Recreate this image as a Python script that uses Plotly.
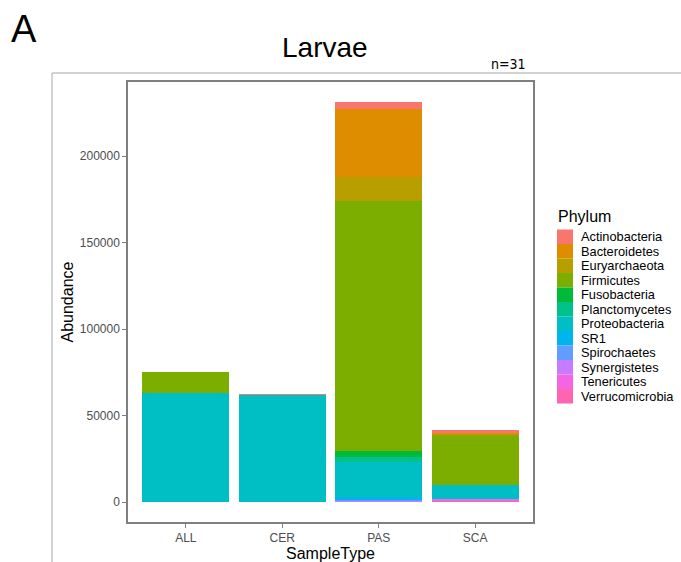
import plotly.graph_objects as go

# Sample types on the x axis
samples = ["ALL", "CER", "PAS", "SCA"]

# Phylum abundances per sample type (ALL, CER, PAS, SCA)
actinobacteria = [0, 500, 3800, 1300]
bacteroidetes = [0, 0, 39500, 1500]
euryarchaeota = [0, 0, 13800, 0]
firmicutes = [12000, 0, 145000, 29100]
fusobacteria = [0, 0, 3100, 0]
planctomycetes = [0, 0, 3200, 0]
proteobacteria = [63000, 61900, 20300, 8100]
sr1 = [0, 0, 1000, 0]
spirochaetes = [0, 0, 700, 0]
synergistetes = [0, 0, 800, 200]
tenericutes = [0, 0, 200, 400]
verrucomicrobia = [0, 0, 0, 900]

phyla = ["Actinobacteria", "Bacteroidetes", "Euryarchaeota", "Firmicutes",
         "Fusobacteria", "Planctomycetes", "Proteobacteria", "SR1",
         "Spirochaetes", "Synergistetes", "Tenericutes", "Verrucomicrobia"]
values = [actinobacteria, bacteroidetes, euryarchaeota, firmicutes,
          fusobacteria, planctomycetes, proteobacteria, sr1,
          spirochaetes, synergistetes, tenericutes, verrucomicrobia]
colors = ["#F8766D", "#DE8C00", "#B79F00", "#7CAE00", "#00BA38", "#00C08B",
          "#00BFC4", "#00B4F0", "#619CFF", "#C77CFF", "#F564E3", "#FF64B0"]

y_ticks = [0, 50000, 100000, 150000, 200000]

W, H = 681, 562
L, R, T, B = 128, 533, 82, 522  # plot panel in pixels


def px(x):
    return (x - L) / (R - L)


def py(y):
    return (B - y) / (B - T)


fig = go.Figure()
# first trace sits at the bottom of the stack, so go in reverse legend order
for name, vals, col in reversed(list(zip(phyla, values, colors))):
    fig.add_trace(go.Bar(
        x=samples, y=vals, name=name, width=0.9,
        marker=dict(color=col, line=dict(width=0)),
        showlegend=False,
    ))

totals = [sum(v[i] for v in values) for i in range(len(samples))]
ymax = max(totals)

font = "Liberation Sans, Arial, sans-serif"
shapes = []
annotations = []

# outer frame around the figure panel
shapes.append(dict(type="line", xref="paper", yref="paper",
                   x0=px(52), x1=px(W + 5), y0=py(73), y1=py(73),
                   line=dict(color="#c4c4c4", width=1.5)))
shapes.append(dict(type="line", xref="paper", yref="paper",
                   x0=px(52), x1=px(52), y0=py(73), y1=py(H + 5),
                   line=dict(color="#c4c4c4", width=1.5)))

# legend keys and labels
key_top, key_h = 229.5, 14.5
for i, (name, col) in enumerate(zip(phyla, colors)):
    y0 = key_top + i * key_h
    shapes.append(dict(type="rect", xref="paper", yref="paper",
                       x0=px(557), x1=px(573), y0=py(y0 + key_h), y1=py(y0),
                       fillcolor=col, line=dict(width=0)))
    annotations.append(dict(text=name, xref="paper", yref="paper",
                            x=px(579), y=py(y0 + key_h / 2),
                            xanchor="left", yanchor="middle", showarrow=False,
                            font=dict(family=font, size=12.8, color="#000000")))
annotations.append(dict(text="Phylum", xref="paper", yref="paper",
                        x=px(556), y=py(216), xanchor="left", yanchor="middle",
                        showarrow=False,
                        font=dict(family=font, size=16, color="#000000")))

# panel letter, title and sample size
annotations.append(dict(text="A", xref="paper", yref="paper",
                        x=px(23.5), y=py(29), xanchor="center", yanchor="middle",
                        showarrow=False,
                        font=dict(family="Liberation Sans Narrow, Liberation Sans, Arial", size=38, color="#000000")))
annotations.append(dict(text="Larvae", xref="paper", yref="paper",
                        x=px(325), y=py(48), xanchor="center", yanchor="middle",
                        showarrow=False,
                        font=dict(family=font, size=28, color="#000000")))
annotations.append(dict(text="n=31", xref="paper", yref="paper",
                        x=px(508), y=py(64), xanchor="center", yanchor="middle",
                        showarrow=False,
                        font=dict(family="DejaVu Sans Condensed, DejaVu Sans", size=14, color="#000000")))

fig.update_layout(
    width=W, height=H,
    margin=dict(l=L, r=W - R, t=T, b=H - B, pad=0, autoexpand=False),
    paper_bgcolor="white", plot_bgcolor="white",
    barmode="stack", bargap=0,
    font=dict(family=font),
    shapes=shapes, annotations=annotations,
    xaxis=dict(
        range=[-0.6, 3.6], type="category", automargin=False,
        showline=True, mirror=True, linecolor="#7f7f7f", linewidth=1.5,
        ticks="outside", ticklen=4, tickcolor="#7f7f7f", tickwidth=1,
        tickfont=dict(family=font, size=12, color="#4d4d4d"),
        showgrid=False, zeroline=False,
        title=dict(text="SampleType", standoff=3,
                   font=dict(family=font, size=16, color="#000000")),
    ),
    yaxis=dict(
        range=[-0.05 * ymax, 1.05 * ymax], automargin=False,
        tickvals=y_ticks, ticktext=[str(v) for v in y_ticks],
        showline=True, mirror=True, linecolor="#7f7f7f", linewidth=1.5,
        ticks="outside", ticklen=4, tickcolor="#7f7f7f", tickwidth=1,
        tickfont=dict(family=font, size=12, color="#4d4d4d"),
        showgrid=False, zeroline=False,
        title=dict(text="Abundance", standoff=2,
                   font=dict(family=font, size=16, color="#000000")),
    ),
)

fig.write_html("out.html")
